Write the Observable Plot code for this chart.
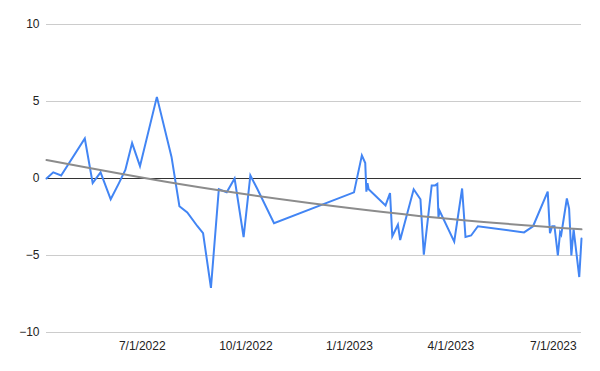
<!DOCTYPE html>
<html>
<head>
<meta charset="utf-8">
<script src="https://cdn.jsdelivr.net/npm/d3@7"></script>
<script src="https://cdn.jsdelivr.net/npm/@observablehq/plot@0.6"></script>
<style>
  html, body { margin: 0; padding: 0; background: #fff; }
  #chart { width: 600px; height: 371px; }
  svg { font-family: "Liberation Sans", Arial, sans-serif; }
</style>
</head>
<body>
<div id="chart"></div>
<script>
const dates = [
  "2022-04-07","2022-04-13","2022-04-20","2022-05-11","2022-05-18","2022-05-25",
  "2022-06-03","2022-06-10","2022-06-16","2022-06-22","2022-06-29","2022-07-14",
  "2022-07-27","2022-08-03","2022-08-10","2022-08-19","2022-08-24","2022-08-31",
  "2022-09-07","2022-09-14","2022-09-21","2022-09-29","2022-10-05","2022-10-11",
  "2022-10-26","2023-01-05","2023-01-12","2023-01-15","2023-01-16","2023-01-17",
  "2023-01-18","2023-02-02","2023-02-06","2023-02-08","2023-02-13","2023-02-15",
  "2023-02-27","2023-03-05","2023-03-08","2023-03-15","2023-03-18","2023-03-20",
  "2023-03-21","2023-03-22","2023-04-04","2023-04-11","2023-04-14","2023-04-19",
  "2023-04-25","2023-06-05","2023-06-13","2023-06-26","2023-06-28","2023-06-30",
  "2023-07-02","2023-07-05","2023-07-07","2023-07-08","2023-07-13","2023-07-15",
  "2023-07-17","2023-07-19","2023-07-24","2023-07-26"
];
const values = [
  0.0, 0.4, 0.2, 2.6, -0.3, 0.4,
  -1.35, -0.35, 0.55, 2.3, 0.8, 5.3,
  1.4, -1.8, -2.2, -3.1, -3.55, -7.1,
  -0.7, -0.9, 0.0, -3.8, 0.2, -0.65,
  -2.9, -0.9, 1.5, 1.0, -0.85, -0.3,
  -0.7, -1.75, -0.95, -3.75, -3.0, -4.0,
  -0.7, -1.35, -4.95, -0.45, -0.45, -0.35,
  -2.5, -2.1, -4.1, -0.65, -3.8, -3.7,
  -3.1, -3.5, -3.1, -0.85, -3.55, -3.1,
  -3.1, -5.0, -3.5, -3.65, -1.3, -1.95,
  -5.0, -3.3, -6.4, -3.9
];
// trend line
const trendDates = ["2022-04-07","2022-08-03","2022-11-28","2023-04-01","2023-07-26"];
const trendValues = [1.2, -0.36, -1.6, -2.63, -3.3];

const yTicks = [-10, -5, 0, 5, 10];
const xTicks = ["2022-07-01","2022-10-01","2023-01-01","2023-04-01","2023-07-01"];

const data = dates.map((d, i) => ({date: new Date(d + "T00:00:00Z"), value: values[i]}));
const trend = trendDates.map((d, i) => ({date: new Date(d + "T00:00:00Z"), value: trendValues[i]}));

const chart = Plot.plot({
  width: 600,
  height: 371,
  marginLeft: 46,
  marginRight: 19,
  marginTop: 24,
  marginBottom: 39,
  style: {fontFamily: '"Liberation Sans", Arial, sans-serif', fontSize: "12px", color: "#222"},
  x: {type: "utc", domain: [data[0].date, data[data.length - 1].date]},
  y: {domain: [-10, 10]},
  marks: [
    Plot.ruleY(yTicks.filter(t => t !== 0), {stroke: "#cccccc", strokeWidth: 1}),
    Plot.ruleY([0], {stroke: "#333333", strokeWidth: 1}),
    Plot.lineY(data, {x: "date", y: "value", stroke: "#4285F4", strokeWidth: 2, strokeLinejoin: "miter", strokeMiterlimit: 4}),
    Plot.lineY(trend, {x: "date", y: "value", curve: "natural", stroke: "#8c8c8c", strokeWidth: 2}),
    Plot.axisY({ticks: yTicks, tickSize: 0, tickPadding: 7, label: null, fontSize: 12, fill: "#222"}),
    Plot.axisX({ticks: xTicks.map(d => new Date(d + "T00:00:00Z")), tickSize: 0, tickPadding: 9,
      tickFormat: d3.utcFormat("%-m/%-d/%Y"), label: null, fontSize: 12, fill: "#222"})
  ]
});
document.getElementById("chart").appendChild(chart);
</script>
</body>
</html>
